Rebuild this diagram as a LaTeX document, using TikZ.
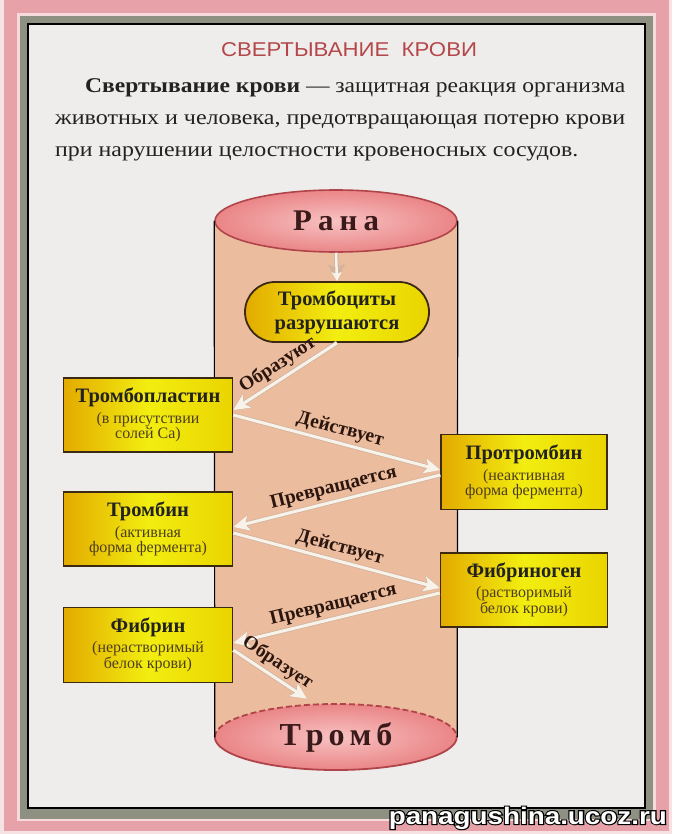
\documentclass[tikz,border=0pt]{standalone}
\usepackage{fontspec}
\usepackage{graphicx}
\setmainfont{Liberation Serif}
\newfontfamily\sansf{Liberation Sans}
\newfontfamily\wmkouter[FakeBold=9]{Liberation Sans Bold}
\newfontfamily\wmkinner{Liberation Sans Bold}
\usetikzlibrary{arrows.meta,shapes.geometric,shapes.misc}
\definecolor{bgl}{HTML}{F6E2E3}
\definecolor{pinkout}{HTML}{E6A2A8}
\definecolor{pinkli}{HTML}{F7DADB}
\definecolor{grayb}{HTML}{8E9182}
\definecolor{panel}{HTML}{EEEDEC}
\definecolor{titlered}{HTML}{B4474A}
\definecolor{txt}{HTML}{222222}
\definecolor{peach}{HTML}{ECBC9E}
\definecolor{ellin}{HTML}{F8C2C2}
\definecolor{ellout}{HTML}{EA8587}
\definecolor{ellline}{HTML}{B0444A}
\definecolor{boxl}{HTML}{E3AA00}
\definecolor{boxm}{HTML}{F2EE10}
\definecolor{boxr}{HTML}{EAD400}
\definecolor{boxline}{HTML}{3A2A14}
\definecolor{subtxt}{HTML}{4E3E1E}
\definecolor{arrw}{HTML}{F8F3EA}
\definecolor{arrsh}{HTML}{D2B49E}
\definecolor{lbltxt}{HTML}{2A160E}
\definecolor{bigtxt}{HTML}{3A1A1A}
\newcommand\boxhd[1]{{\fontsize{20.5}{23}\selectfont\bfseries #1}}
\newcommand\boxsub[1]{{\color{subtxt}\fontsize{16}{18}\selectfont #1}}
\begin{document}
\begin{tikzpicture}[x=1pt,y=-1pt,
  box/.style={draw=boxline, line width=1.6pt, left color=boxl, right color=boxr, middle color=boxm,
    minimum width=169pt, minimum height=74pt, align=center, inner sep=2pt, text=txt},
  flow/.style={draw=arrw, line width=3pt, -{Stealth[length=16pt,width=15pt,inset=4pt]},
    preaction={draw=arrsh, line width=4.6pt, -{Stealth[length=17pt,width=17pt,inset=4pt]}}},
  lbl/.style={font=\fontsize{19.5}{19.5}\selectfont\bfseries, text=lbltxt, sloped, above, inner sep=3pt},
  bodyline/.style={anchor=base west, inner sep=0pt, font=\fontsize{21}{21}\selectfont, text=txt}]
\useasboundingbox (0,0) rectangle (672,834);
% frame
\fill[bgl] (0,0) rectangle (672,834);
\fill[pinkout] (4,0) rectangle (669,831);
\fill[pinkli] (17,13) rectangle (656,821);
\fill[grayb] (20,16) rectangle (653,819);
\draw[black, line width=1.2pt, fill=panel] (28,24) rectangle (645,808);
% title and definition
\node[inner sep=0pt, text=titlered] (title) at (349,50)
  {\resizebox{256pt}{\height}{\sansf\fontsize{20}{20}\selectfont СВЕРТЫВАНИЕ\ \ КРОВИ}};
\node[bodyline] (l1) at (85,93) {\resizebox{540pt}{\height}{\textbf{Свертывание крови} — защитная реакция организма}};
\node[bodyline] (l2) at (55,125) {\resizebox{570pt}{\height}{животных и человека, предотвращающая потерю крови}};
\node[bodyline] (l3) at (55,157) {\resizebox{523pt}{\height}{при нарушении целостности кровеносных сосудов.}};
% cylinder
\coordinate (ctop) at (336,221);
\coordinate (cbot) at (336,737);
\fill[peach] ([xshift=-121pt]ctop) -- ([xshift=-121pt]cbot)
  arc[start angle=180, end angle=360, x radius=121pt, y radius=33pt] -- ([xshift=121pt]ctop) -- cycle;
\node[ellipse, minimum width=242pt, minimum height=66pt, inner sep=0pt, inner color=ellin, outer color=ellout,
  text=bigtxt] (tromb) at (cbot)
  {\resizebox{113pt}{\height}{\fontsize{32}{32}\selectfont\bfseries Т\hspace{5pt}р\hspace{5pt}о\hspace{5pt}м\hspace{5pt}б}};
\draw[ellline, line width=1.8pt] (tromb.west) arc[start angle=180, end angle=360, x radius=121pt, y radius=33pt];
\draw[ellline, line width=1.8pt, dash pattern=on 6pt off 3pt] (tromb.west) arc[start angle=180, end angle=0, x radius=121pt, y radius=33pt];
\node[ellipse, minimum width=242pt, minimum height=62pt, inner sep=0pt, inner color=ellin, outer color=ellout,
  draw=ellline, line width=1.6pt, text=bigtxt] (rana) at (ctop)
  {\resizebox{86pt}{\height}{\fontsize{30}{30}\selectfont\bfseries Р\hspace{6pt}а\hspace{6pt}н\hspace{6pt}а}};
\draw[black, line width=1.2pt] (rana.west) -- (tromb.west);
\draw[black, line width=1.2pt] (rana.east) -- (tromb.east);
% nodes
\node[rounded rectangle, draw=boxline, line width=1.8pt, left color=boxl, right color=boxr, middle color=boxm,
  minimum width=188pt, minimum height=60pt, align=center, inner sep=2pt, text=txt,
  font=\fontsize{20.5}{24}\selectfont\bfseries] (trom) at (337,312) {Тромбоциты\\разрушаются};
\node[box] (tpl) at (148,415) {\boxhd{Тромбопластин}\\[4pt]\boxsub{(в присутствии}\\\boxsub{солей Са)}};
\node[box, minimum width=166pt, minimum height=75pt] (ptr) at (524,472) {\boxhd{Протромбин}\\[4pt]\boxsub{(неактивная}\\\boxsub{форма фермента)}};
\node[box] (trb) at (148,529) {\boxhd{Тромбин}\\[4pt]\boxsub{(активная}\\\boxsub{форма фермента)}};
\node[box, minimum width=167pt] (fbg) at (524,590) {\boxhd{Фибриноген}\\[4pt]\boxsub{(растворимый}\\\boxsub{белок крови)}};
\node[box, minimum height=75pt] (fbr) at (148,645) {\boxhd{Фибрин}\\[4pt]\boxsub{(нерастворимый}\\\boxsub{белок крови)}};
% connectors
\draw[flow, line width=2.5pt, -{Stealth[length=9pt,width=10pt,inset=2pt]},
  preaction={draw=arrsh, line width=3.5pt, -{Stealth[length=10pt,width=12pt,inset=2pt]}}] (rana.south) -- (trom.north);
\draw[flow] (trom.south) -- ([yshift=5pt]tpl.east) node[lbl, pos=0.5] (e1) {Образуют};
\draw[flow] (tpl.east) -- ([yshift=2pt]ptr.west) node[lbl, pos=0.5] (e2) {Действует};
\draw[flow] ([yshift=-3pt]ptr.west) -- ([yshift=2pt]trb.east) node[lbl, pos=0.5] (e3) {Превращается};
\draw[flow] ([yshift=-4pt]trb.east) -- ([yshift=2pt]fbg.west) node[lbl, pos=0.5] (e4) {Действует};
\draw[flow] ([yshift=-3pt]fbg.west) -- ([yshift=2pt]fbr.east) node[lbl, pos=0.5] (e5) {Превращается};
\draw[flow] ([yshift=-5pt]fbr.east) -- ([xshift=-2pt,yshift=6pt]tromb.130) node[lbl, pos=0.5] (e6) {Образует};
% watermark
\node[anchor=base east, inner sep=0pt, text=black] (wmkbg) at (667,824)
  {\resizebox{278pt}{\height}{\wmkouter\fontsize{24}{24}\selectfont panagushina.ucoz.ru}};
\node[anchor=base east, inner sep=0pt, text=white] (wmk) at (667,824)
  {\resizebox{278pt}{\height}{\wmkinner\fontsize{24}{24}\selectfont panagushina.ucoz.ru}};
\end{tikzpicture}
\end{document}
